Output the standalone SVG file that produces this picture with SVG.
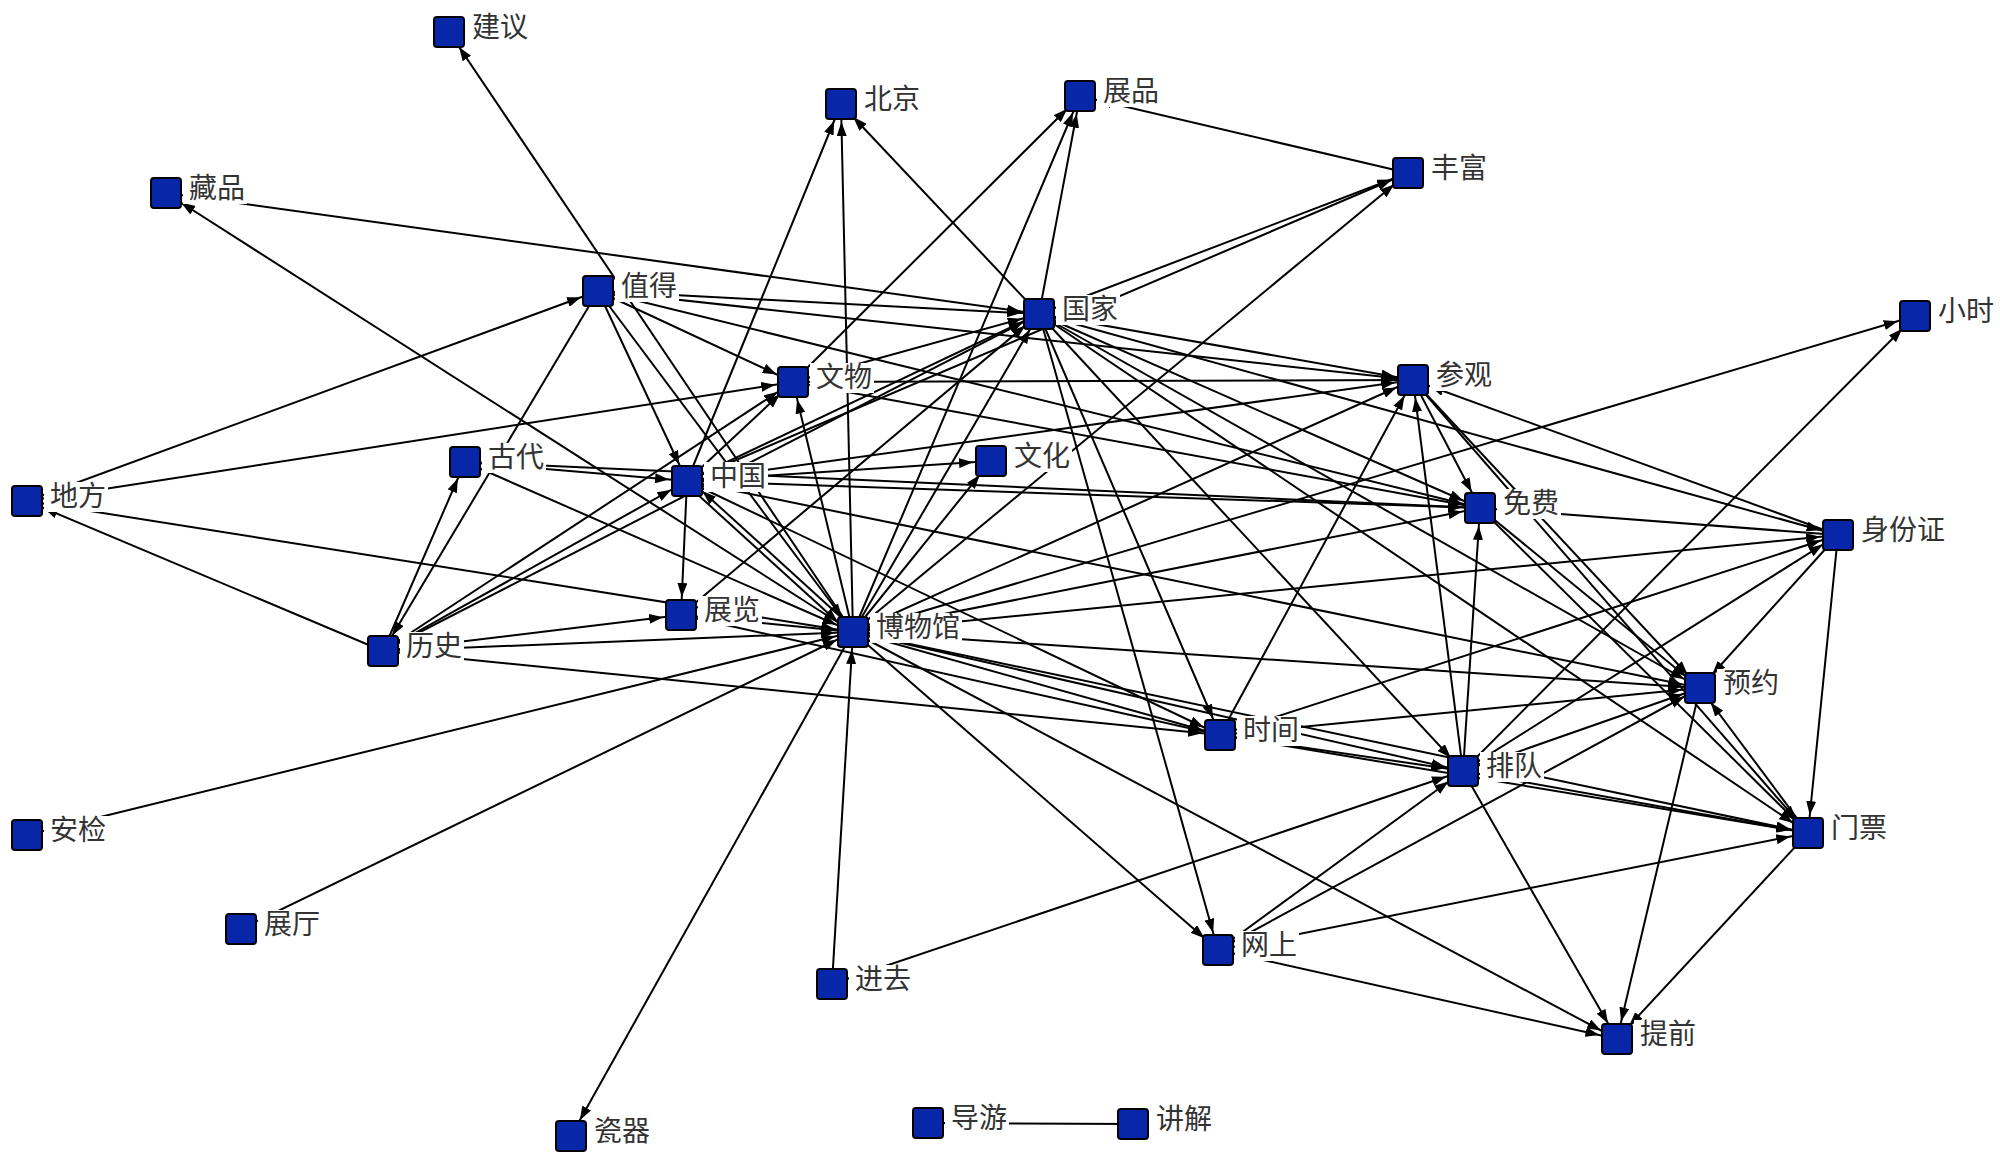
<svg xmlns="http://www.w3.org/2000/svg" width="2000" height="1164" viewBox="0 0 2000 1164">
<style>
.e{stroke:#000;stroke-width:2;fill:none;marker-end:url(#a)}
.p{stroke:#000;stroke-width:2;fill:none}
.n rect.s{fill:#0726a8;stroke:#000;stroke-width:2}
.n rect.b{fill:#fff}
.n text{font-family:"Noto Sans CJK SC","Noto Sans",sans-serif;font-size:28px;fill:#333}
</style>
<defs>
<marker id="a" markerWidth="14" markerHeight="10" refX="32" refY="5" orient="auto" markerUnits="userSpaceOnUse"><path d="M0,0L14,5L0,10z" fill="#000"/></marker>
</defs>
<rect width="2000" height="1164" fill="#fff"/>
<g id="connectors">
<line class="e" x1="853" y1="632" x2="449" y2="32"/>
<line class="e" x1="853" y1="632" x2="166" y2="193"/>
<line class="e" x1="853" y1="632" x2="841" y2="104"/>
<line class="e" x1="853" y1="632" x2="1080" y2="96"/>
<line class="e" x1="853" y1="632" x2="1408" y2="173"/>
<line class="e" x1="853" y1="632" x2="1915" y2="316"/>
<line class="e" x1="853" y1="632" x2="1039" y2="314"/>
<line class="e" x1="853" y1="632" x2="793" y2="382"/>
<line class="e" x1="855" y1="630" x2="689" y2="479"/>
<line class="e" x1="853" y1="632" x2="1413" y2="380"/>
<line class="e" x1="853" y1="632" x2="1480" y2="508"/>
<line class="e" x1="853" y1="632" x2="991" y2="461"/>
<line class="e" x1="853" y1="632" x2="1700" y2="688"/>
<line class="e" x1="853" y1="632" x2="1220" y2="735"/>
<line class="e" x1="853" y1="632" x2="1463" y2="771"/>
<line class="e" x1="853" y1="632" x2="1808" y2="833"/>
<line class="e" x1="853" y1="632" x2="1218" y2="950"/>
<line class="e" x1="853" y1="632" x2="1617" y2="1039"/>
<line class="e" x1="853" y1="632" x2="571" y2="1136"/>
<line class="e" x1="853" y1="632" x2="1838" y2="535"/>
<line class="e" x1="832" y1="984" x2="853" y2="632"/>
<line class="e" x1="241" y1="929" x2="853" y2="632"/>
<line class="e" x1="27" y1="835" x2="853" y2="632"/>
<line class="e" x1="383" y1="651" x2="853" y2="632"/>
<line class="e" x1="27" y1="501" x2="853" y2="632"/>
<line class="e" x1="681" y1="615" x2="853" y2="632"/>
<line class="e" x1="685" y1="483" x2="851" y2="634"/>
<line class="e" x1="598" y1="291" x2="853" y2="632"/>
<line class="e" x1="465" y1="462" x2="853" y2="632"/>
<line class="e" x1="687" y1="481" x2="841" y2="104"/>
<line class="e" x1="687" y1="481" x2="793" y2="382"/>
<line class="e" x1="687" y1="481" x2="1039" y2="314"/>
<line class="e" x1="687" y1="481" x2="991" y2="461"/>
<line class="e" x1="687" y1="481" x2="1413" y2="380"/>
<line class="e" x1="687" y1="481" x2="1480" y2="508"/>
<line class="e" x1="687" y1="481" x2="681" y2="615"/>
<line class="e" x1="687" y1="481" x2="1408" y2="173"/>
<line class="e" x1="687" y1="481" x2="1700" y2="688"/>
<line class="e" x1="687" y1="481" x2="1220" y2="735"/>
<line class="e" x1="598" y1="291" x2="687" y2="481"/>
<line class="e" x1="383" y1="651" x2="687" y2="481"/>
<line class="e" x1="465" y1="462" x2="687" y2="481"/>
<line class="e" x1="598" y1="291" x2="793" y2="382"/>
<line class="e" x1="27" y1="501" x2="793" y2="382"/>
<line class="e" x1="383" y1="651" x2="793" y2="382"/>
<line class="e" x1="793" y1="382" x2="1080" y2="96"/>
<line class="e" x1="793" y1="382" x2="1039" y2="314"/>
<line class="e" x1="793" y1="382" x2="1413" y2="380"/>
<line class="e" x1="793" y1="382" x2="1480" y2="508"/>
<line class="e" x1="598" y1="291" x2="1039" y2="314"/>
<line class="e" x1="598" y1="291" x2="1413" y2="380"/>
<line class="e" x1="598" y1="291" x2="1480" y2="508"/>
<line class="e" x1="598" y1="291" x2="383" y2="651"/>
<line class="e" x1="27" y1="501" x2="598" y2="291"/>
<line class="e" x1="166" y1="193" x2="1039" y2="314"/>
<line class="e" x1="1039" y1="314" x2="841" y2="104"/>
<line class="e" x1="1039" y1="314" x2="1080" y2="96"/>
<line class="e" x1="1039" y1="314" x2="1408" y2="173"/>
<line class="e" x1="1039" y1="314" x2="1413" y2="380"/>
<line class="e" x1="1039" y1="314" x2="1480" y2="508"/>
<line class="e" x1="1039" y1="314" x2="1700" y2="688"/>
<line class="e" x1="1039" y1="314" x2="1220" y2="735"/>
<line class="e" x1="1039" y1="314" x2="1218" y2="950"/>
<line class="e" x1="1039" y1="314" x2="1808" y2="833"/>
<line class="e" x1="1039" y1="314" x2="1463" y2="771"/>
<line class="e" x1="1039" y1="314" x2="1838" y2="535"/>
<line class="e" x1="383" y1="651" x2="1039" y2="314"/>
<line class="e" x1="681" y1="615" x2="1039" y2="314"/>
<line class="e" x1="1463" y1="771" x2="1413" y2="380"/>
<line class="e" x1="1220" y1="735" x2="1413" y2="380"/>
<line class="e" x1="1838" y1="535" x2="1413" y2="380"/>
<line class="e" x1="1413" y1="380" x2="1480" y2="508"/>
<line class="e" x1="1413" y1="380" x2="1700" y2="688"/>
<line class="e" x1="1413" y1="380" x2="1808" y2="833"/>
<line class="e" x1="1463" y1="771" x2="1480" y2="508"/>
<line class="e" x1="1838" y1="535" x2="1480" y2="508"/>
<line class="e" x1="1480" y1="508" x2="1700" y2="688"/>
<line class="e" x1="1480" y1="508" x2="1808" y2="833"/>
<line class="e" x1="465" y1="462" x2="1480" y2="508"/>
<line class="e" x1="1463" y1="771" x2="1700" y2="688"/>
<line class="e" x1="1220" y1="735" x2="1700" y2="688"/>
<line class="e" x1="1218" y1="950" x2="1700" y2="688"/>
<line class="e" x1="1700" y1="688" x2="1617" y2="1039"/>
<line class="e" x1="1808" y1="833" x2="1700" y2="688"/>
<line class="e" x1="1838" y1="535" x2="1700" y2="688"/>
<line class="e" x1="383" y1="651" x2="1220" y2="735"/>
<line class="e" x1="1220" y1="735" x2="1463" y2="771"/>
<line class="e" x1="1220" y1="735" x2="1838" y2="535"/>
<line class="e" x1="681" y1="615" x2="1220" y2="735"/>
<line class="e" x1="1220" y1="735" x2="1808" y2="833"/>
<line class="e" x1="832" y1="984" x2="1463" y2="771"/>
<line class="e" x1="1218" y1="950" x2="1463" y2="771"/>
<line class="e" x1="1463" y1="771" x2="1915" y2="316"/>
<line class="e" x1="1463" y1="771" x2="1808" y2="833"/>
<line class="e" x1="1463" y1="771" x2="1617" y2="1039"/>
<line class="e" x1="1463" y1="771" x2="1838" y2="535"/>
<line class="e" x1="1218" y1="950" x2="1617" y2="1039"/>
<line class="e" x1="1218" y1="950" x2="1808" y2="833"/>
<line class="e" x1="1838" y1="535" x2="1808" y2="833"/>
<line class="e" x1="1808" y1="833" x2="1617" y2="1039"/>
<line class="e" x1="1408" y1="173" x2="1080" y2="96"/>
<line class="e" x1="383" y1="651" x2="27" y2="501"/>
<line class="e" x1="383" y1="651" x2="465" y2="462"/>
<line class="e" x1="383" y1="651" x2="681" y2="615"/>
<line class="p" x1="928" y1="1123" x2="1133" y2="1124"/>
</g>
<g id="n-jianyi" class="n"><rect class="b" x="466" y="13" width="64" height="30"/><rect class="s" x="434" y="17" width="30" height="30" rx="3"/><text x="472" y="37">建议</text></g>
<g id="n-beijing" class="n"><rect class="b" x="858" y="85" width="64" height="30"/><rect class="s" x="826" y="89" width="30" height="30" rx="3"/><text x="864" y="109">北京</text></g>
<g id="n-zhanpin" class="n"><rect class="b" x="1097" y="77" width="64" height="30"/><rect class="s" x="1065" y="81" width="30" height="30" rx="3"/><text x="1103" y="101">展品</text></g>
<g id="n-fengfu" class="n"><rect class="b" x="1425" y="154" width="64" height="30"/><rect class="s" x="1393" y="158" width="30" height="30" rx="3"/><text x="1431" y="178">丰富</text></g>
<g id="n-cangpin" class="n"><rect class="b" x="183" y="174" width="64" height="30"/><rect class="s" x="151" y="178" width="30" height="30" rx="3"/><text x="189" y="198">藏品</text></g>
<g id="n-zhide" class="n"><rect class="b" x="615" y="272" width="64" height="30"/><rect class="s" x="583" y="276" width="30" height="30" rx="3"/><text x="621" y="296">值得</text></g>
<g id="n-guojia" class="n"><rect class="b" x="1056" y="295" width="64" height="30"/><rect class="s" x="1024" y="299" width="30" height="30" rx="3"/><text x="1062" y="319">国家</text></g>
<g id="n-xiaoshi" class="n"><rect class="b" x="1932" y="297" width="64" height="30"/><rect class="s" x="1900" y="301" width="30" height="30" rx="3"/><text x="1938" y="321">小时</text></g>
<g id="n-wenwu" class="n"><rect class="b" x="810" y="363" width="64" height="30"/><rect class="s" x="778" y="367" width="30" height="30" rx="3"/><text x="816" y="387">文物</text></g>
<g id="n-canguan" class="n"><rect class="b" x="1430" y="361" width="64" height="30"/><rect class="s" x="1398" y="365" width="30" height="30" rx="3"/><text x="1436" y="385">参观</text></g>
<g id="n-gudai" class="n"><rect class="b" x="482" y="443" width="64" height="30"/><rect class="s" x="450" y="447" width="30" height="30" rx="3"/><text x="488" y="467">古代</text></g>
<g id="n-wenhua" class="n"><rect class="b" x="1008" y="442" width="64" height="30"/><rect class="s" x="976" y="446" width="30" height="30" rx="3"/><text x="1014" y="466">文化</text></g>
<g id="n-zhongguo" class="n"><rect class="b" x="704" y="462" width="64" height="30"/><rect class="s" x="672" y="466" width="30" height="30" rx="3"/><text x="710" y="486">中国</text></g>
<g id="n-difang" class="n"><rect class="b" x="44" y="482" width="64" height="30"/><rect class="s" x="12" y="486" width="30" height="30" rx="3"/><text x="50" y="506">地方</text></g>
<g id="n-mianfei" class="n"><rect class="b" x="1497" y="489" width="64" height="30"/><rect class="s" x="1465" y="493" width="30" height="30" rx="3"/><text x="1503" y="513">免费</text></g>
<g id="n-shenfenzheng" class="n"><rect class="b" x="1855" y="516" width="92" height="30"/><rect class="s" x="1823" y="520" width="30" height="30" rx="3"/><text x="1861" y="540">身份证</text></g>
<g id="n-zhanlan" class="n"><rect class="b" x="698" y="596" width="64" height="30"/><rect class="s" x="666" y="600" width="30" height="30" rx="3"/><text x="704" y="620">展览</text></g>
<g id="n-bowuguan" class="n"><rect class="b" x="870" y="613" width="92" height="30"/><rect class="s" x="838" y="617" width="30" height="30" rx="3"/><text x="876" y="637">博物馆</text></g>
<g id="n-lishi" class="n"><rect class="b" x="400" y="632" width="64" height="30"/><rect class="s" x="368" y="636" width="30" height="30" rx="3"/><text x="406" y="656">历史</text></g>
<g id="n-yuyue" class="n"><rect class="b" x="1717" y="669" width="64" height="30"/><rect class="s" x="1685" y="673" width="30" height="30" rx="3"/><text x="1723" y="693">预约</text></g>
<g id="n-shijian" class="n"><rect class="b" x="1237" y="716" width="64" height="30"/><rect class="s" x="1205" y="720" width="30" height="30" rx="3"/><text x="1243" y="740">时间</text></g>
<g id="n-paidui" class="n"><rect class="b" x="1480" y="752" width="64" height="30"/><rect class="s" x="1448" y="756" width="30" height="30" rx="3"/><text x="1486" y="776">排队</text></g>
<g id="n-menpiao" class="n"><rect class="b" x="1825" y="814" width="64" height="30"/><rect class="s" x="1793" y="818" width="30" height="30" rx="3"/><text x="1831" y="838">门票</text></g>
<g id="n-anjian" class="n"><rect class="b" x="44" y="816" width="64" height="30"/><rect class="s" x="12" y="820" width="30" height="30" rx="3"/><text x="50" y="840">安检</text></g>
<g id="n-zhanting" class="n"><rect class="b" x="258" y="910" width="64" height="30"/><rect class="s" x="226" y="914" width="30" height="30" rx="3"/><text x="264" y="934">展厅</text></g>
<g id="n-wangshang" class="n"><rect class="b" x="1235" y="931" width="64" height="30"/><rect class="s" x="1203" y="935" width="30" height="30" rx="3"/><text x="1241" y="955">网上</text></g>
<g id="n-jinqu" class="n"><rect class="b" x="849" y="965" width="64" height="30"/><rect class="s" x="817" y="969" width="30" height="30" rx="3"/><text x="855" y="989">进去</text></g>
<g id="n-tiqian" class="n"><rect class="b" x="1634" y="1020" width="64" height="30"/><rect class="s" x="1602" y="1024" width="30" height="30" rx="3"/><text x="1640" y="1044">提前</text></g>
<g id="n-ciqi" class="n"><rect class="b" x="588" y="1117" width="64" height="30"/><rect class="s" x="556" y="1121" width="30" height="30" rx="3"/><text x="594" y="1141">瓷器</text></g>
<g id="n-daoyou" class="n"><rect class="b" x="945" y="1104" width="64" height="30"/><rect class="s" x="913" y="1108" width="30" height="30" rx="3"/><text x="951" y="1128">导游</text></g>
<g id="n-jiangjie" class="n"><rect class="b" x="1150" y="1105" width="64" height="30"/><rect class="s" x="1118" y="1109" width="30" height="30" rx="3"/><text x="1156" y="1129">讲解</text></g>
</svg>
